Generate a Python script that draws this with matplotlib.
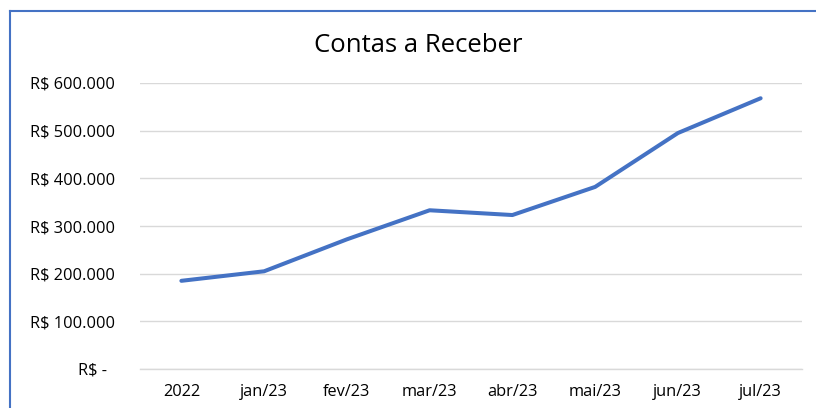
import matplotlib
matplotlib.use("Agg")
import matplotlib.pyplot as plt
from matplotlib.lines import Line2D
from matplotlib.ticker import FuncFormatter

categories = ["2022", "jan/23", "fev/23", "mar/23", "abr/23", "mai/23", "jun/23", "jul/23"]
values = [185000, 205000, 272000, 333000, 323000, 382000, 495000, 568000]
yticks = [0, 100000, 200000, 300000, 400000, 500000, 600000]

plt.rcParams['font.family'] = ['Open Sans', 'DejaVu Sans']

W, H = 816, 408
fig = plt.figure(figsize=(W / 100, H / 100), dpi=100)
ax = fig.add_axes([140 / W, 1 - 369 / H, (802 - 140) / W, (369 - 83) / H])

x = list(range(len(categories)))
ax.plot(x, values, color="#4472C4", linewidth=2.9, solid_capstyle="round", solid_joinstyle="round")
ax.set_xlim(-0.5, len(categories) - 0.5)
ax.set_ylim(0, 600000)
ax.set_yticks(yticks)

def fmt(v, pos):
    if v == 0:
        return "R$ -  "
    return "R$ " + f"{int(v):,}".replace(",", ".")

ax.yaxis.set_major_formatter(FuncFormatter(fmt))
ax.set_xticks(x)
ax.set_xticklabels(categories)
ax.grid(axis="y", color="#D9D9D9", linewidth=1)
ax.axhline(0, color="#D9D9D9", linewidth=1, clip_on=False, zorder=0)
ax.set_axisbelow(True)
for s in ax.spines.values():
    s.set_visible(False)
ax.tick_params(axis="y", length=0, labelsize=11.8, colors="#000000", pad=18)
ax.tick_params(axis="x", length=0, labelsize=11.8, colors="#000000", pad=11)

fig.text(418 / W, 1 - 45 / H, "Contas a Receber", ha="center", va="center", fontsize=18.5, color="#000000")

# chart frame (partial, blue)
fig.add_artist(Line2D([9.5 / W, 9.5 / W], [0, 1 - 11 / H], transform=fig.transFigure, color="#4472C4", linewidth=1.5))
fig.add_artist(Line2D([9.5 / W, 1], [1 - 11 / H, 1 - 11 / H], transform=fig.transFigure, color="#4472C4", linewidth=1.5))

fig.savefig("out.png", dpi=100)
